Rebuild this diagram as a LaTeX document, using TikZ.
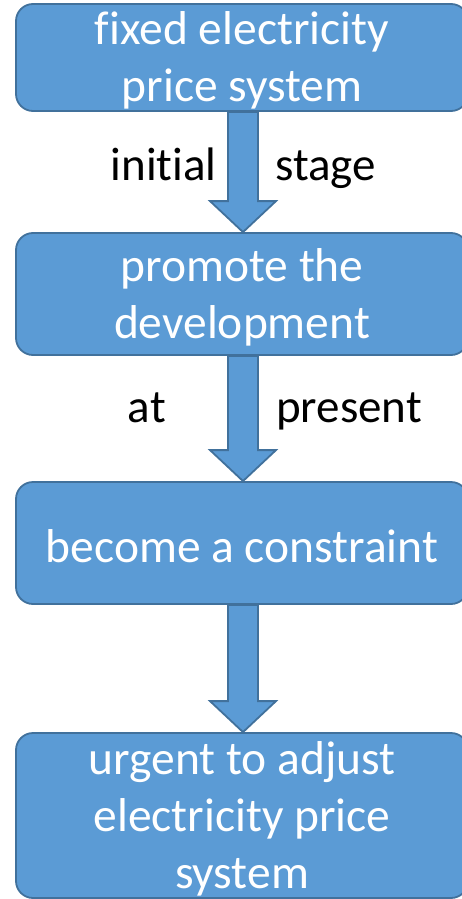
\documentclass[tikz,border=0pt]{standalone}
\usepackage{fontspec}
\setmainfont{Carlito}[Ligatures=NoCommon]
\usetikzlibrary{calc}
\definecolor{boxfill}{HTML}{5B9BD5}
\definecolor{boxline}{HTML}{41719C}
\tikzset{
  flowbox/.style={draw=boxline, fill=boxfill, line width=1.8pt, rounded corners=17pt,
    minimum width=452pt, inner sep=0pt},
  boxtext/.style={inner sep=0pt, align=center, text=white, yshift=-3pt,
    font=\fontsize{47.5}{57}\selectfont},
  blockarrow/.style={draw=boxline, fill=boxfill, line width=1.8pt, line join=miter},
  lbl/.style={inner sep=0pt, text=black, font=\fontsize{47}{57}\selectfont}
}
\begin{document}
\begin{tikzpicture}[x=1pt,y=-1pt]
\useasboundingbox (0,0) rectangle (462,899);
\clip (0,0) rectangle (462,899);
\node[flowbox, minimum height=107pt,
  label={[boxtext]center:{fixed electricity\\price system}}] (b1) at (242,57.5) {};
\node[flowbox, minimum height=122pt,
  label={[boxtext]center:{promote the\\development}}] (b2) at (242,294) {};
\node[flowbox, minimum height=122pt,
  label={[boxtext]center:{become a constraint}}] (b3) at (242,543) {};
\node[flowbox, minimum height=165pt,
  label={[boxtext]center:{urgent to adjust\\electricity price\\system}}] (b4) at (242,815.5) {};
% block arrows between boxes
\foreach \a/\b in {b1/b2, b2/b3, b3/b4}{
  \draw[blockarrow] let \p1=(\a.south), \p2=(\b.north) in
    (\x1+1-15,\y1) -- (\x1+1+15,\y1) -- (\x1+1+15,\y2+31) -- (\x1+1+33,\y2+31)
    -- (\x1+1,\y2) -- (\x1+1-33,\y2+31) -- (\x1+1-15,\y2+31) -- cycle;
}
\node[lbl, anchor=base east] (l1) at (217,180) {initial};
\node[lbl, anchor=base west] (l2) at (275,180) {stage};
\node[lbl, anchor=base east] (l3) at (166,422) {at};
\node[lbl, anchor=base west] (l4) at (276,422) {present};
\end{tikzpicture}
\end{document}
